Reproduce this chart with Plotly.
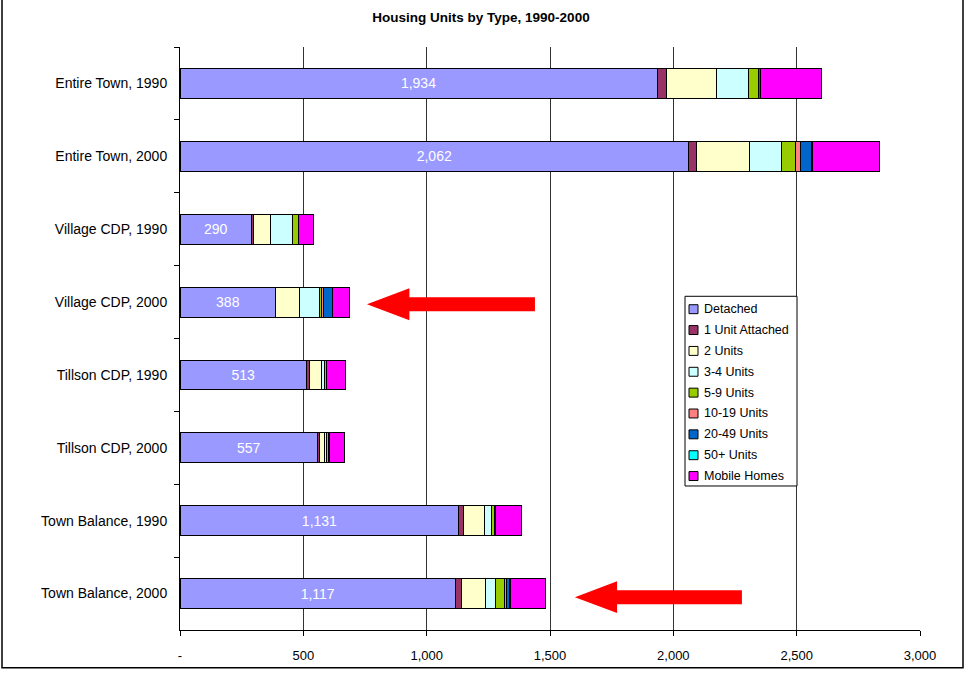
import plotly.graph_objects as go

categories = ["Entire Town, 1990", "Entire Town, 2000", "Village CDP, 1990", "Village CDP, 2000",
              "Tillson CDP, 1990", "Tillson CDP, 2000", "Town Balance, 1990", "Town Balance, 2000"]

detached = [1934, 2062, 290, 388, 513, 557, 1131, 1117]
unit_attached = [37, 33, 8, 0, 12, 8, 17, 25]
two_units = [203, 213, 67, 98, 48, 20, 88, 95]
three_four = [131, 132, 90, 78, 14, 10, 27, 44]
five_nine = [42, 54, 26, 11, 5, 9, 11, 34]
ten_nineteen = [0, 20, 0, 8, 0, 3, 0, 9]
twenty_49 = [7, 46, 0, 35, 2, 0, 5, 11]
fifty_plus = [0, 5, 0, 0, 0, 0, 0, 5]
mobile = [245, 271, 62, 70, 77, 60, 106, 141]

series = [
    ("Detached", detached, "#9999FF"),
    ("1 Unit Attached", unit_attached, "#993366"),
    ("2 Units", two_units, "#FFFFCC"),
    ("3-4 Units", three_four, "#CCFFFF"),
    ("5-9 Units", five_nine, "#99CC00"),
    ("10-19 Units", ten_nineteen, "#FF8080"),
    ("20-49 Units", twenty_49, "#0066CC"),
    ("50+ Units", fifty_plus, "#00FFFF"),
    ("Mobile Homes", mobile, "#FF00FF"),
]

x_ticks = [0, 500, 1000, 1500, 2000, 2500, 3000]
x_labels = ["-", "500", "1,000", "1,500", "2,000", "2,500", "3,000"]

font = "Arial, Liberation Sans, sans-serif"

W, H = 967, 675
ML, MR, MT, MB = 180, 47, 47, 41
PW, PH = W - ML - MR, H - MT - MB


def px_x(p):  # page pixel -> paper x
    return (p - ML) / PW


def px_y(p):  # page pixel -> paper y
    return (H - MB - p) / PH


fig = go.Figure()
for name, vals, color in series:
    kw = {}
    if name == "Detached":
        kw = dict(text=[f"{v:,}" for v in vals], textposition="inside", insidetextanchor="middle",
                  textangle=0, constraintext="none", textfont=dict(color="white", size=14, family=font))
    fig.add_trace(go.Bar(y=categories, x=vals, name=name, orientation="h", showlegend=False,
                         marker=dict(color=color, line=dict(color="black", width=1)), **kw))


def arrow(tip, neck, tail, yc):
    d = 1 / PH
    return (f"M {tip},{yc} L {neck},{yc + 16 * d} L {neck},{yc + 7 * d} L {tail},{yc + 7 * d} "
            f"L {tail},{yc - 7 * d} L {neck},{yc - 7 * d} L {neck},{yc - 16 * d} Z")


shapes = [
    dict(type="path", xref="x", yref="paper", path=arrow(758, 930, 1439, px_y(306)),
         fillcolor="#FF0000", line=dict(width=0)),
    dict(type="path", xref="x", yref="paper", path=arrow(1601, 1772, 2278, px_y(601)),
         fillcolor="#FF0000", line=dict(width=0)),
    dict(type="rect", xref="paper", yref="paper", x0=px_x(2), x1=px_x(963), y0=px_y(672), y1=px_y(-5),
         line=dict(color="black", width=1.5), fillcolor="rgba(0,0,0,0)"),
    # legend box
    dict(type="rect", xref="paper", yref="paper", x0=px_x(685), x1=px_x(797), y0=px_y(489), y1=px_y(298),
         line=dict(color="black", width=1), fillcolor="white", layer="above"),
]
annotations = []
for i, (name, vals, color) in enumerate(series):
    yc = 311 + 21 * i
    shapes.append(dict(type="rect", xref="paper", yref="paper", x0=px_x(689), x1=px_x(698),
                       y0=px_y(yc + 4.5), y1=px_y(yc - 4.5), fillcolor=color,
                       line=dict(color="black", width=1), layer="above"))
    annotations.append(dict(text=name, xref="paper", yref="paper", x=px_x(702), y=px_y(yc),
                            xanchor="left", yanchor="middle", showarrow=False,
                            font=dict(size=12.5, family=font, color="black")))

fig.update_layout(
    width=W, height=H,
    margin=dict(l=ML, r=MR, t=MT, b=MB),
    barmode="stack", bargap=0.59,
    paper_bgcolor="white", plot_bgcolor="white",
    font=dict(family=font, size=13, color="black"),
    title=dict(text="<b>Housing Units by Type, 1990-2000</b>", x=481 / W, xanchor="center",
               y=1 - 17 / H, yanchor="middle", font=dict(size=13.5, family=font, color="black")),
    showlegend=False,
    shapes=shapes,
    annotations=annotations,
    xaxis=dict(range=[0, 3000], tickvals=x_ticks, ticktext=x_labels, showgrid=True,
               gridcolor="#333333", gridwidth=1, showline=True, linecolor="black", linewidth=1,
               ticks="outside", ticklen=5, tickcolor="black", zeroline=False,
               ticklabelstandoff=8, tickfont=dict(size=13)),
    yaxis=dict(autorange="reversed", showline=True, linecolor="black", linewidth=1,
               ticks="outside", tickson="boundaries", ticklen=5, tickcolor="black",
               showgrid=False, ticklabelstandoff=9, tickfont=dict(size=14)),
)

# the page body has a default 8px margin; remove it so the figure fills the window
fig.write_html("out.html", config={"displayModeBar": False},
               post_script="document.body.style.margin='0px';")
